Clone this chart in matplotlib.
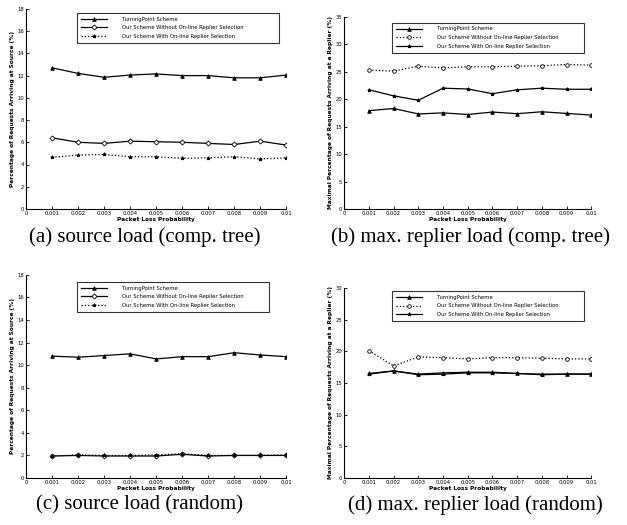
import matplotlib
matplotlib.use("Agg")
import matplotlib.pyplot as plt

# packet loss probabilities on the x axis
loss_prob = [0.001, 0.002, 0.003, 0.004, 0.005, 0.006, 0.007, 0.008, 0.009, 0.01]
x_ticks = [0, 0.001, 0.002, 0.003, 0.004, 0.005, 0.006, 0.007, 0.008, 0.009, 0.01]
x_ticklabels = ["0", "0.001", "0.002", "0.003", "0.004", "0.005", "0.006", "0.007", "0.008", "0.009", "0.01"]

labels = ["TurningPoint Scheme",
          "Our Scheme Without On-line Replier Selection",
          "Our Scheme With On-line Replier Selection"]

# (a) source load, complete tree
a_turning = [12.7, 12.2, 11.85, 12.05, 12.15, 12.0, 12.0, 11.8, 11.8, 12.05]
a_without = [6.4, 6.0, 5.9, 6.1, 6.05, 6.0, 5.9, 5.8, 6.1, 5.75]
a_with = [4.65, 4.85, 4.9, 4.7, 4.7, 4.55, 4.6, 4.7, 4.5, 4.6]

# (b) max replier load, complete tree
b_turning = [17.9, 18.3, 17.3, 17.5, 17.2, 17.65, 17.35, 17.7, 17.4, 17.1]
b_without = [25.3, 25.1, 26.0, 25.7, 25.9, 25.9, 26.0, 26.1, 26.3, 26.2]
b_with = [21.7, 20.6, 19.8, 22.0, 21.85, 21.0, 21.7, 22.0, 21.8, 21.8]

# (c) source load, random
c_turning = [10.8, 10.7, 10.85, 11.0, 10.55, 10.75, 10.75, 11.1, 10.9, 10.75]
c_without = [1.95, 2.0, 1.95, 1.95, 1.95, 2.1, 1.95, 2.0, 2.0, 2.0]
c_with = [1.95, 2.05, 2.0, 2.0, 2.05, 2.15, 2.0, 2.0, 2.0, 2.05]

# (d) max replier load, random
d_turning = [16.5, 16.9, 16.4, 16.6, 16.7, 16.7, 16.5, 16.4, 16.4, 16.4]
d_without = [20.1, 17.7, 19.1, 19.0, 18.8, 19.0, 19.0, 18.9, 18.8, 18.8]
d_with = [16.4, 16.9, 16.3, 16.4, 16.6, 16.6, 16.5, 16.3, 16.4, 16.4]

src_ylabel = "Percentage of Requests Arriving at Source (%)"
rep_ylabel = "Maximal Percentage of Requests Arriving at a Replier (%)"

panels = [
    # axes rect, series, ytop, yticks, ylabel, caption, caption pos, legend box, style kind
    ([0.0415, 0.602, 0.415, 0.381], (a_turning, a_without, a_with), 18, range(0, 19, 2), src_ylabel,
     "(a) source load (comp. tree)", (0.231, 0.549), (0.196, 0.83, 0.777, 0.15), "src"),
    ([0.549, 0.602, 0.394, 0.366], (b_turning, b_without, b_with), 35, range(0, 36, 5), rep_ylabel,
     "(b) max. replier load (comp. tree)", (0.75, 0.549), (0.194, 0.81, 0.778, 0.159), "rep"),
    ([0.0415, 0.0895, 0.415, 0.387], (c_turning, c_without, c_with), 18, range(0, 19, 2), src_ylabel,
     "(c) source load (random)", (0.223, 0.038), (0.196, 0.818, 0.739, 0.147), "src"),
    ([0.549, 0.0895, 0.394, 0.362], (d_turning, d_without, d_with), 30, range(0, 31, 5), rep_ylabel,
     "(d) max. replier load (random)", (0.758, 0.038), (0.194, 0.826, 0.778, 0.158), "rep"),
]

styles = {
    "src": [dict(ls="-", marker="^", mfc="black"),
            dict(ls="-", marker="D", mfc="white"),
            dict(ls=":", marker="*", mfc="black")],
    "rep": [dict(ls="-", marker="^", mfc="black"),
            dict(ls=":", marker="o", mfc="white"),
            dict(ls="-", marker="*", mfc="black")],
}

fig = plt.figure(figsize=(6.27, 5.25), dpi=100)

for rect, series, ytop, yticks, ylabel, caption, cpos, legbox, kind in panels:
    ax = fig.add_axes(rect)
    for vals, lab, st in zip(series, labels, styles[kind]):
        ax.plot(loss_prob, vals, color="black", lw=0.9, ms=2.6, mec="black", mew=0.6, label=lab, **st)
    ax.set_xlim(0, 0.01)
    ax.set_ylim(0, ytop)
    ax.set_xticks(x_ticks)
    ax.set_xticklabels(x_ticklabels)
    ax.set_yticks(list(yticks))
    ax.tick_params(labelsize=3.8, direction="in", length=2, width=0.6, pad=1.5)
    for side in ("top", "right"):
        ax.spines[side].set_visible(False)
    for side in ("left", "bottom"):
        ax.spines[side].set_linewidth(0.8)
    ax.set_xlabel("Packet Loss Probability", fontsize=4.2, fontweight="bold", labelpad=1)
    ax.set_ylabel(ylabel, fontsize=4.2, fontweight="bold", labelpad=1.5)
    leg = ax.legend(loc="upper left", bbox_to_anchor=legbox, mode="expand", fontsize=3.8, frameon=True,
                    fancybox=False, edgecolor="black", handlelength=5, borderpad=0.7, labelspacing=0.7,
                    handletextpad=2.8, borderaxespad=0)
    leg.get_frame().set_linewidth(0.8)
    fig.text(cpos[0], cpos[1], caption, ha="center", va="center", fontsize=15, family="Liberation Serif")

fig.savefig("out.png", dpi=100)
